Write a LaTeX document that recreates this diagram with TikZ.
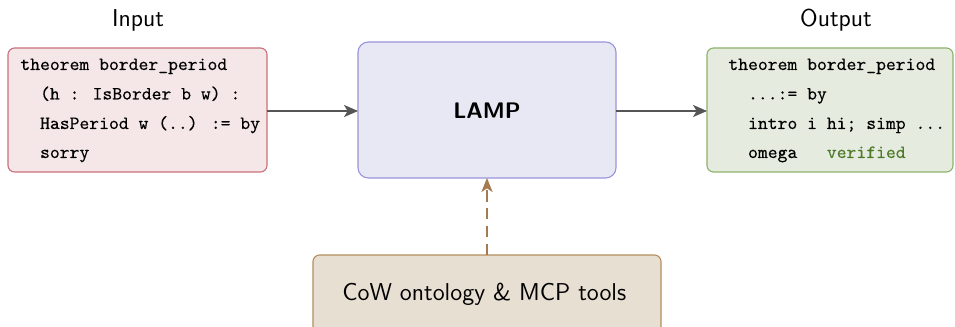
\documentclass[tikz,border=0pt]{standalone}
\usepackage{fontspec}
\newfontfamily\codefont{lmmono10-regular.otf}[FakeBold=0.25]
\usetikzlibrary{arrows.meta}
\definecolor{inFill}{HTML}{F5E7E8}
\definecolor{inLine}{HTML}{C9707A}
\definecolor{lampFill}{HTML}{E8E8F5}
\definecolor{lampLine}{HTML}{9A94DA}
\definecolor{outFill}{HTML}{E6EBE0}
\definecolor{outLine}{HTML}{8DB26A}
\definecolor{cowFill}{HTML}{E8DFD3}
\definecolor{cowLine}{HTML}{B48D5C}
\definecolor{arrGray}{HTML}{555555}
\definecolor{arrBrown}{HTML}{A47B4E}
\definecolor{okGreen}{HTML}{4E7A27}
\begin{document}
\begin{tikzpicture}[x=0.533pt,y=-0.533pt,
  boxbase/.style={draw,line width=0.6pt,inner sep=0pt,outer sep=0pt},
  inbox/.style={boxbase,fill=inFill,draw=inLine,rounded corners=3.5pt},
  lampbox/.style={boxbase,fill=lampFill,draw=lampLine,rounded corners=5.5pt},
  outbox/.style={boxbase,fill=outFill,draw=outLine,rounded corners=3.5pt},
  cowbox/.style={boxbase,fill=cowFill,draw=cowLine,rounded corners=3.5pt},
  code/.style={anchor=base west,inner sep=0pt,font=\codefont\fontsize{10}{12}\selectfont},
  lbl/.style={anchor=base,inner sep=0pt,font=\sffamily\fontsize{13}{15}\selectfont},
  flow/.style={draw=arrGray,line width=0.7pt,-{Stealth[length=7.5pt,width=6.5pt,inset=2pt]}},
  feed/.style={draw=arrBrown,line width=0.6pt,dashed,dash pattern=on 6pt off 3.5pt,-{Stealth[length=7.5pt,width=6pt,inset=2pt]}}
]
\useasboundingbox (0,0) rectangle (955,327);
\clip (0,0) rectangle (955,327);
% boxes
\path[inbox] (8,48) rectangle (267,172);
\path[lampbox] (358,42) rectangle (616,178);
\path[outbox] (707,48) rectangle (953,172);
\path[cowbox] (313,255) rectangle (661,340);
\coordinate (inE) at (267,111);
\coordinate (lampW) at (358,111);
\coordinate (lampE) at (616,111);
\coordinate (outW) at (707,111);
\coordinate (lampS) at (487,178);
\coordinate (cowN) at (487,255);
% labels
\node[lbl] (inlbl) at (138,27) {Input};
\node[lbl] (outlbl) at (836,27) {Output};
\node[anchor=base,inner sep=0pt,font=\sffamily\bfseries\fontsize{12}{14}\selectfont] (lamp) at (487,119) {LAMP};
\node[lbl,anchor=base west] (cow) at (342,300) {CoW ontology \& MCP tools};
% input code
\node[code] (i1) at (20,70) {theorem border\_period};
\node[code] (i2) at (20,99.5) {\ \ (h : IsBorder b w) :};
\node[code] (i3) at (20,129) {\ \ HasPeriod w (..) := by};
\node[code] (i4) at (20,158) {\ \ sorry};
% output code
\node[code] (o1) at (728,70) {theorem border\_period};
\node[code] (o2) at (728,99.5) {\ \ ...:= by};
\node[code] (o3) at (728,129) {\ \ intro i hi; simp ...};
\node[code] (o4) at (728,158) {\ \ omega \ \ \textcolor{okGreen}{verified}};
% connectors
\draw[flow] (inE) -- (lampW);
\draw[flow] (lampE) -- (outW);
\draw[feed] (cowN) -- (lampS);
\end{tikzpicture}
\end{document}
